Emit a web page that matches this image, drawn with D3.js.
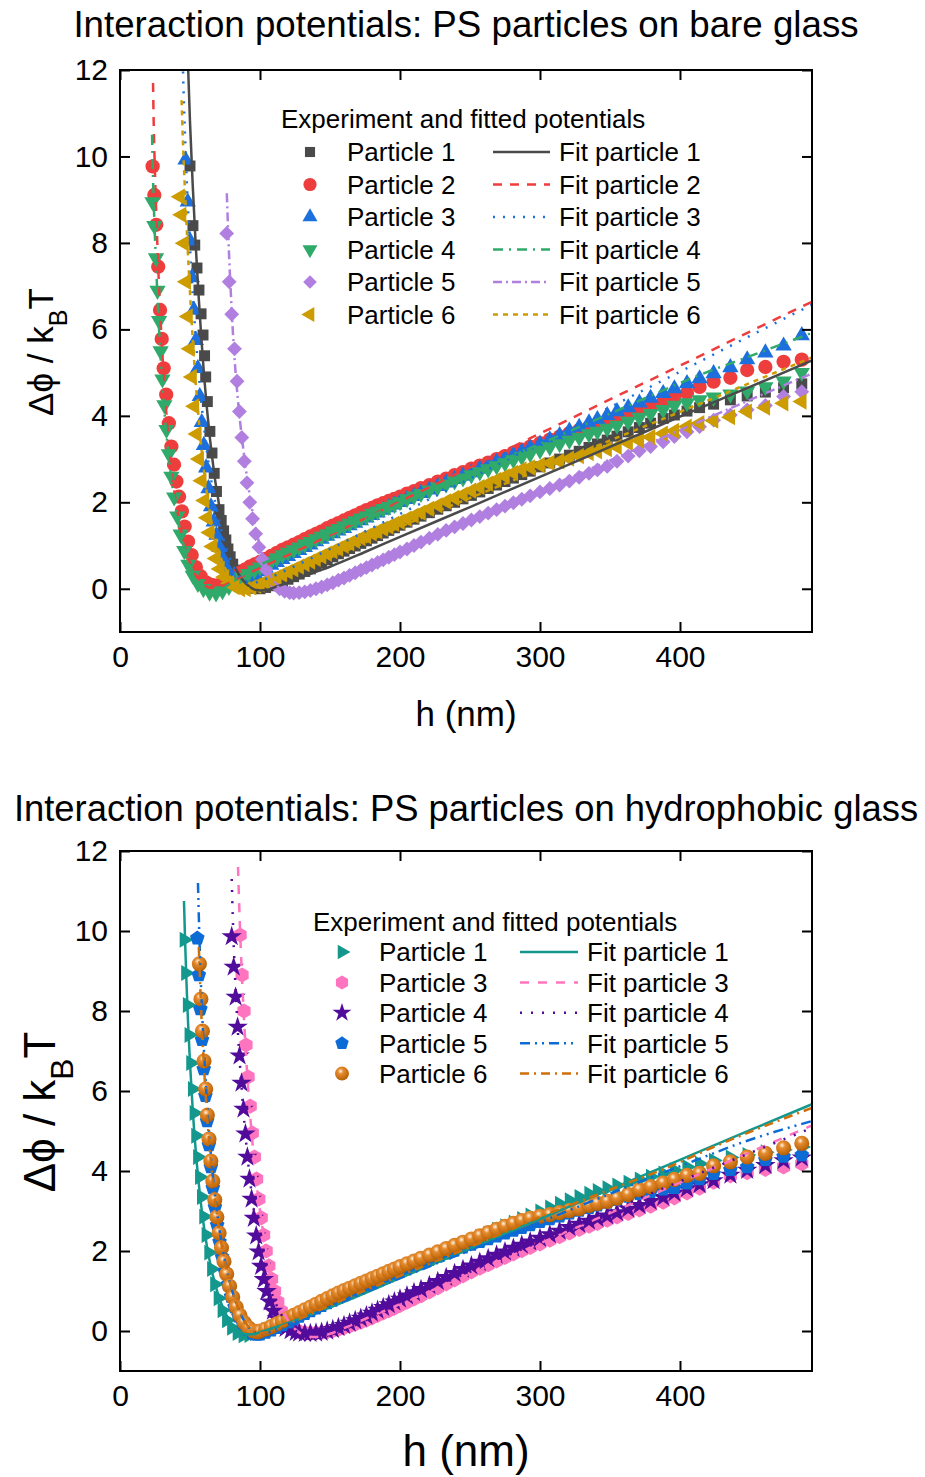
<!DOCTYPE html>
<html>
<head>
<meta charset="utf-8">
<script src="https://cdn.jsdelivr.net/npm/d3@7/dist/d3.min.js"></script>
<style>
  body { margin: 0; background: #fff; }
  text { font-family: "Liberation Sans", Arial, sans-serif; fill: #000; }
</style>
</head>
<body>
<div id="chart"></div>
<script>
// h (nm) of the histogram bins on the attractive side, shared by all particles
const tailH = [100,104,108,112,116,120,124,128,132,136,140,144,148,152,156,160,164,168,172,176,180,184,188,192,196,
  200,205,210,215,221,227,233,239,245,251,257,263,269,275,281,287,293,
  300,307,314,321,328,335,341,348,355,
  363,371,379,388,396,405,414,424,436,448,461,474,487];

// ---------- PS particles on bare glass ----------
// repulsive wall as [h, Δφ]
const bareP1Wall = [[50.0,9.78],[52.1,8.40],[53.4,7.95],[55.0,7.42],[56.4,6.91],[57.9,6.36],[59.3,5.87],[60.4,5.39],[61.2,4.90],[62.4,4.33],[64.2,3.64],[65.7,3.14],[67.3,2.67],[68.9,2.25],[70.7,1.83],[72.3,1.58],[74.0,1.34],[75.6,1.13],[77.1,0.92],[78.7,0.74],[80.5,0.57],[82.6,0.43],[85.0,0.30],[87.6,0.19],[90.5,0.10],[93.6,0.04],[97.0,0.01]];
const bareP2Wall = [[23.3,9.77],[24.5,9.11],[25.9,8.42],[27.3,7.45],[28.6,6.45],[29.8,5.78],[31.2,5.10],[33.0,4.49],[34.9,3.83],[36.7,3.29],[38.6,2.87],[40.3,2.48],[42.2,2.13],[44.2,1.79],[46.2,1.44],[48.6,1.09],[51.2,0.78],[54.2,0.50],[57.6,0.29],[61.4,0.15],[65.5,0.09],[69.5,0.08],[73.5,0.12],[77.5,0.19],[81.5,0.28],[85.5,0.37],[89.5,0.45],[93.0,0.52],[96.5,0.57]];
const bareP3Wall = [[46.8,9.92],[48.4,8.95],[50.0,8.05],[51.4,7.20],[52.8,6.45],[54.2,5.75],[55.6,5.10],[57.0,4.45],[58.4,3.85],[59.9,3.32],[61.5,2.80],[63.2,2.32],[65.0,1.90],[66.9,1.55],[68.9,1.24],[71.0,0.96],[73.2,0.71],[75.6,0.50],[78.2,0.34],[81.0,0.23],[84.0,0.16],[87.2,0.14],[90.5,0.16],[93.8,0.22],[97.0,0.31]];
const bareP4Wall = [[23.2,8.95],[24.5,8.40],[25.7,7.65],[26.8,6.90],[27.9,6.20],[29.0,5.50],[30.3,4.85],[31.7,4.25],[33.2,3.68],[34.9,3.12],[36.7,2.60],[38.7,2.12],[40.9,1.68],[43.3,1.26],[45.9,0.88],[48.8,0.56],[52.0,0.31],[55.6,0.12],[59.6,0.00],[64.0,-0.08],[68.6,-0.10],[73.2,-0.05],[77.8,0.05],[82.4,0.16],[87.0,0.26],[91.6,0.35],[96.0,0.43]];
const bareP5Wall = [[76.2,8.22],[78.0,7.10],[79.8,6.35],[81.8,5.55],[83.6,4.80],[85.3,4.10],[87.0,3.50],[88.8,2.95],[90.7,2.45],[92.7,2.00],[94.7,1.62],[96.9,1.27],[99.2,0.96],[101.7,0.68],[104.4,0.44],[107.3,0.25],[110.5,0.10],[114.0,0.00],[117.6,-0.06],[121.2,-0.09]];
const bareP6Wall = [[42.9,9.07],[44.0,8.65],[45.8,7.99],[47.3,7.10],[48.6,6.30],[50.0,5.55],[51.5,4.90],[53.2,4.22],[54.9,3.58],[56.6,3.00],[58.4,2.50],[60.4,2.04],[62.3,1.64],[64.1,1.30],[66.2,0.98],[68.6,0.70],[71.4,0.46],[74.6,0.27],[78.2,0.13],[82.0,0.04],[86.0,-0.01],[90.0,-0.01],[94.0,0.03],[97.5,0.07]];

// Δφ on tailH (null = no bin)
const bareP1Tail = [0.00,0.03,0.07,0.12,0.17,0.22,0.28,0.34,0.40,0.46,0.53,0.60,0.67,0.74,0.81,0.87,0.93,0.99,1.05,1.11,1.17,1.23,1.29,1.35,1.41,
  1.47,1.54,1.61,1.68,1.76,1.84,1.92,2.00,2.08,2.16,2.24,2.32,2.40,2.48,2.56,2.64,2.72,
  2.82,2.91,3.00,3.09,3.18,3.27,3.35,3.44,3.53,
  3.63,3.73,3.83,3.94,4.02,4.11,4.19,4.27,4.37,4.46,4.55,4.65,4.74];
const bareP2Tail = [0.62,0.69,0.76,0.83,0.90,0.96,1.02,1.08,1.15,1.21,1.27,1.33,1.40,1.46,1.52,1.58,1.64,1.70,1.76,1.82,1.87,1.93,1.98,2.03,2.08,
  2.13,2.20,2.26,2.33,2.40,2.48,2.55,2.63,2.70,2.78,2.85,2.92,3.00,3.07,3.15,3.22,3.29,
  3.37,3.45,3.52,3.60,3.67,3.74,3.80,3.87,3.94,
  4.02,4.12,4.22,4.32,4.44,4.53,4.67,4.79,4.88,5.06,5.13,5.25,5.30];
const bareP3Tail = [0.40,0.48,0.55,0.61,0.68,0.75,0.82,0.89,0.96,1.02,1.09,1.15,1.22,1.28,1.34,1.40,1.46,1.52,1.58,1.64,1.70,1.76,1.82,1.88,1.94,
  2.00,2.07,2.14,2.21,2.29,2.37,2.45,2.53,2.61,2.69,2.77,2.85,2.93,3.01,3.09,3.17,3.26,
  3.35,3.45,3.55,3.65,3.74,3.84,3.92,4.01,4.10,
  4.19,4.30,4.41,4.52,4.63,4.75,4.86,4.98,5.12,5.30,5.46,5.62,5.86];
const bareP4Tail = [0.50,0.57,0.64,0.71,0.78,0.84,0.90,0.96,1.03,1.09,1.15,1.21,1.27,1.33,1.39,1.45,1.51,1.57,1.63,1.68,1.74,1.79,1.85,1.90,1.95,
  2.01,2.08,2.14,2.20,2.28,2.35,2.42,2.49,2.56,2.63,2.70,2.77,2.84,2.91,2.98,3.05,3.12,
  3.20,3.28,3.35,3.43,3.50,3.58,3.64,3.71,3.78,
  3.87,3.96,4.05,4.14,4.24,4.30,4.37,4.43,4.50,4.57,4.67,4.80,5.00];
const bareP5Tail = [null,null,null,null,null,null,-0.10,-0.09,-0.07,-0.04,0.00,0.04,0.09,0.14,0.20,0.25,0.31,0.37,0.43,0.49,0.55,0.61,0.67,0.73,0.79,
  0.85,0.92,1.00,1.08,1.17,1.26,1.35,1.43,1.51,1.59,1.67,1.75,1.83,1.91,1.99,2.07,2.15,
  2.24,2.32,2.40,2.49,2.58,2.67,2.75,2.83,2.95,
  3.07,3.19,3.29,3.40,3.52,3.63,3.75,3.90,4.02,4.14,4.24,4.45,4.56];
const bareP6Tail = [0.10,0.15,0.21,0.27,0.33,0.39,0.45,0.51,0.57,0.63,0.69,0.75,0.81,0.87,0.93,0.99,1.05,1.11,1.17,1.22,1.28,1.33,1.39,1.44,1.50,
  1.55,1.62,1.69,1.76,1.85,1.93,2.02,2.10,2.18,2.27,2.35,2.43,2.52,2.60,2.68,2.76,2.81,
  2.86,2.91,2.95,3.01,3.07,3.14,3.18,3.23,3.28,
  3.37,3.43,3.51,3.59,3.65,3.75,3.83,3.89,3.97,4.10,4.19,4.29,4.33];

// fitted potentials [h, Δφ]
const bareFit1 = [[48.4,12.3],[50,10.8],[52,9.3],[54,8.0],[56,6.85],[58,5.85],[60,4.95],[62,4.2],[64,3.55],[66,3.0],[68,2.5],[70,2.1],[73,1.45],[76,1.05],[80,0.65],[85,0.32],[90,0.12],[95,0.0],[100,-0.04],[105,-0.03],[110,0.03],[120,0.14],[130,0.27],[140,0.39],[150,0.51],[175,0.85],[200,1.2],[250,1.89],[300,2.59],[350,3.28],[400,3.98],[450,4.67],[494.3,5.28]];
const bareFit2 = [[23.6,11.7],[24,10.9],[25,9.6],[26,8.6],[27,7.7],[28,6.9],[29,6.2],[30,5.6],[32,4.55],[34,3.7],[36,3.0],[38,2.45],[40,2.0],[43,1.45],[46,1.02],[50,0.6],[55,0.27],[60,0.09],[66,0.02],[72,0.05],[80,0.17],[90,0.33],[100,0.48],[120,0.78],[150,1.24],[200,2.02],[250,2.81],[300,3.59],[350,4.38],[400,5.16],[450,5.95],[494.3,6.64]];
const bareFit3 = [[44.8,12.2],[46,10.9],[47,10.0],[48,9.2],[50,7.9],[52,6.8],[54,5.85],[56,5.05],[58,4.35],[60,3.75],[62,3.2],[64,2.75],[66,2.35],[68,2.0],[71,1.55],[74,1.15],[78,0.75],[82,0.45],[86,0.25],[90,0.15],[95,0.13],[100,0.18],[110,0.3],[120,0.45],[150,0.92],[200,1.73],[250,2.55],[300,3.37],[350,4.2],[400,5.02],[450,5.85],[494.3,6.57]];
const bareFit4 = [[22.9,10.5],[23.5,9.6],[24.5,8.55],[25.5,7.7],[26.5,6.95],[27.5,6.25],[28.5,5.65],[30,4.85],[32,4.0],[34,3.3],[36,2.72],[38,2.24],[40,1.84],[43,1.35],[46,0.95],[50,0.55],[55,0.2],[60,0.0],[65,-0.08],[70,-0.05],[77,0.08],[85,0.26],[100,0.55],[120,0.85],[150,1.28],[181,1.71],[200,1.97],[250,2.66],[300,3.35],[350,4.05],[412,4.92],[450,5.38],[494.3,5.92]];
const bareFit5 = [[76.3,9.15],[77,8.5],[78,7.65],[79,6.95],[80,6.3],[82,5.25],[84,4.45],[86,3.8],[88,3.25],[90,2.75],[92,2.3],[94,1.9],[96,1.55],[98,1.25],[100,0.98],[103,0.65],[106,0.4],[110,0.16],[115,-0.02],[120,-0.09],[125,-0.1],[130,-0.07],[140,0.04],[150,0.17],[160,0.31],[180,0.59],[200,0.87],[250,1.57],[300,2.27],[350,2.97],[400,3.67],[450,4.37],[494.3,4.98]];
const bareFit6 = [[44.0,11.3],[45,10.3],[46,9.5],[47,8.8],[48,8.1],[49,7.45],[50,6.85],[52,5.75],[54,4.8],[56,4.0],[58,3.3],[60,2.72],[62,2.22],[64,1.8],[66,1.45],[69,1.05],[72,0.72],[76,0.42],[80,0.22],[85,0.07],[90,0.01],[95,0.02],[100,0.07],[110,0.2],[120,0.35],[150,0.72],[200,1.43],[250,2.1],[300,2.76],[350,3.43],[400,4.09],[450,4.76],[494.3,5.35]];

const bareLabels = ["Particle 1", "Particle 2", "Particle 3", "Particle 4", "Particle 5", "Particle 6"];

// ---------- PS particles on hydrophobic glass ----------
const hydroP1Wall = [[45.9,9.78],[47.0,8.95],[48.2,8.15],[49.4,7.40],[50.6,6.70],[51.8,6.05],[53.0,5.45],[54.2,4.88],[55.5,4.35],[56.9,3.85],[58.3,3.35],[59.9,2.86],[61.6,2.40],[63.5,1.96],[65.5,1.55],[67.7,1.17],[70.2,0.82],[73.0,0.52],[76.2,0.27],[79.8,0.08],[83.8,-0.05],[88.0,-0.11],[92.2,-0.10],[96.3,-0.06]];
const hydroP3Wall = [[85.8,9.90],[87.2,8.90],[88.6,8.00],[90.0,7.15],[91.5,6.35],[93.0,5.62],[94.5,4.95],[96.0,4.35],[97.6,3.80],[99.2,3.30],[100.9,2.83],[102.6,2.40],[104.4,2.00],[106.3,1.63],[108.3,1.30],[110.4,1.00],[112.7,0.73],[115.2,0.50],[118.0,0.31],[121.0,0.17],[124.2,0.07],[127.5,0.00]];
const hydroP4Wall = [[79.8,9.86],[81.2,9.10],[82.6,8.35],[84.0,7.60],[85.4,6.88],[86.8,6.20],[88.2,5.55],[89.6,4.93],[91.0,4.35],[92.5,3.80],[94.0,3.30],[95.6,2.82],[97.3,2.38],[99.0,1.98],[100.8,1.62],[102.7,1.29],[104.7,0.99],[106.9,0.73],[109.3,0.50],[112.0,0.31],[115.0,0.17],[118.3,0.07],[121.9,0.01],[125.6,-0.03]];
const hydroP5Wall = [[55.2,9.82],[56.3,8.90],[57.4,8.05],[58.6,7.28],[59.8,6.55],[61.0,5.88],[62.2,5.25],[63.5,4.65],[64.9,4.10],[66.3,3.58],[67.8,3.10],[69.4,2.65],[71.1,2.23],[72.9,1.85],[74.9,1.49],[77.0,1.16],[79.3,0.86],[81.8,0.60],[84.6,0.37],[87.7,0.18],[91.0,0.04],[94.5,-0.06],[97.8,-0.09]];
const hydroP6Wall = [[56.7,9.18],[57.8,8.30],[58.9,7.50],[60.0,6.75],[61.2,6.05],[62.4,5.40],[63.6,4.80],[64.9,4.25],[66.3,3.75],[67.7,3.28],[69.2,2.85],[70.8,2.45],[72.5,2.08],[74.3,1.74],[76.2,1.42],[78.3,1.12],[80.5,0.85],[83.0,0.60],[85.7,0.39],[88.7,0.21],[91.9,0.08],[95.3,0.00],[98.0,-0.02]];

const hydroP1Tail = [-0.02,0.02,0.07,0.12,0.18,0.24,0.30,0.36,0.42,0.49,0.55,0.62,0.68,0.75,0.82,0.89,0.95,1.02,1.08,1.14,1.20,1.26,1.32,1.38,1.44,
  1.50,1.57,1.64,1.72,1.81,1.90,1.99,2.08,2.17,2.26,2.35,2.44,2.53,2.62,2.71,2.80,2.89,
  2.99,3.09,3.18,3.27,3.35,3.43,3.50,3.57,3.64,
  3.71,3.79,3.86,3.94,4.02,4.10,4.18,4.26,4.34,4.40,4.47,4.53,4.60];
const hydroP3Tail = [null,null,null,null,null,null,null,-0.02,-0.04,-0.05,-0.05,-0.04,-0.02,0.01,0.04,0.08,0.12,0.17,0.22,0.27,0.33,0.39,0.45,0.51,0.57,
  0.64,0.72,0.80,0.88,0.98,1.08,1.18,1.28,1.38,1.48,1.57,1.66,1.75,1.84,1.93,2.01,2.09,
  2.18,2.27,2.36,2.45,2.54,2.62,2.69,2.77,2.85,
  2.94,3.03,3.12,3.22,3.33,3.45,3.57,3.72,3.88,3.96,4.04,4.10,4.18];
const hydroP4Tail = [null,null,null,null,null,null,null,-0.05,-0.06,-0.06,-0.05,-0.03,0.00,0.04,0.09,0.14,0.20,0.26,0.32,0.38,0.45,0.52,0.59,0.66,0.73,
  0.80,0.88,0.96,1.04,1.14,1.24,1.34,1.44,1.54,1.63,1.72,1.81,1.90,1.98,2.07,2.15,2.23,
  2.32,2.41,2.50,2.59,2.67,2.75,2.82,2.88,2.96,
  3.05,3.14,3.24,3.34,3.45,3.56,3.66,3.76,3.90,4.02,4.14,4.26,4.33];
const hydroP5Tail = [-0.08,-0.04,0.02,0.08,0.15,0.22,0.29,0.36,0.43,0.50,0.57,0.63,0.70,0.76,0.83,0.89,0.95,1.01,1.07,1.13,1.19,1.25,1.31,1.37,1.43,
  1.49,1.56,1.63,1.70,1.78,1.86,1.94,2.02,2.09,2.16,2.23,2.30,2.37,2.44,2.51,2.58,2.65,
  2.73,2.80,2.87,2.94,3.01,3.08,3.14,3.21,3.28,
  3.36,3.43,3.48,3.54,3.58,3.69,3.80,3.93,4.03,4.10,4.28,4.36,4.40];
const hydroP6Tail = [0.00,0.05,0.11,0.18,0.25,0.32,0.39,0.46,0.53,0.60,0.67,0.74,0.81,0.88,0.95,1.01,1.07,1.13,1.19,1.25,1.31,1.37,1.43,1.49,1.55,
  1.61,1.68,1.75,1.82,1.90,1.98,2.06,2.14,2.22,2.30,2.38,2.46,2.54,2.62,2.69,2.76,2.82,
  2.87,2.91,2.96,3.01,3.06,3.14,3.19,3.24,3.32,
  3.41,3.53,3.61,3.70,3.79,3.89,3.94,4.13,4.23,4.35,4.44,4.58,4.69];

const hydroFit1 = [[45.7,10.75],[46.5,9.75],[47.5,8.7],[48.5,7.8],[50,6.7],[52,5.5],[54,4.55],[56,3.78],[58,3.13],[60,2.6],[62,2.14],[64,1.76],[66,1.44],[69,1.04],[72,0.72],[76,0.4],[80,0.17],[85,0.0],[90,-0.08],[95,-0.08],[100,-0.03],[110,0.08],[120,0.2],[130,0.33],[140,0.46],[150,0.59],[200,1.32],[250,2.06],[300,2.8],[350,3.54],[400,4.28],[450,5.02],[494.3,5.67]];
const hydroFit3 = [[84.3,11.6],[85,10.8],[86,9.8],[87,8.95],[88,8.2],[90,6.9],[92,5.85],[94,4.95],[96,4.2],[98,3.55],[100,3.0],[103,2.3],[106,1.75],[109,1.3],[112,0.93],[116,0.55],[120,0.27],[125,0.05],[130,-0.08],[135,-0.14],[140,-0.15],[145,-0.12],[150,-0.07],[160,0.07],[175,0.3],[200,0.67],[250,1.43],[300,2.19],[350,2.95],[400,3.71],[450,4.47],[494.3,5.14]];
const hydroFit4 = [[79.8,11.3],[80.5,10.4],[81.5,9.4],[82.5,8.6],[84,7.6],[86,6.5],[88,5.55],[90,4.75],[92,4.05],[94,3.45],[96,2.92],[98,2.47],[100,2.08],[103,1.6],[106,1.2],[110,0.8],[115,0.42],[120,0.17],[125,0.02],[130,-0.06],[136,-0.08],[145,-0.04],[155,0.07],[170,0.27],[200,0.72],[250,1.48],[300,2.24],[350,3.0],[400,3.74],[450,4.45],[494.3,5.08]];
const hydroFit5 = [[55.7,11.2],[56.5,10.1],[57.5,9.0],[58.5,8.1],[60,7.0],[62,5.8],[64,4.8],[66,4.0],[68,3.35],[70,2.8],[72,2.33],[75,1.75],[78,1.28],[82,0.8],[86,0.44],[90,0.18],[95,0.0],[100,-0.05],[105,-0.04],[110,0.02],[120,0.15],[135,0.37],[150,0.6],[200,1.32],[250,2.02],[300,2.72],[367,3.67],[412,4.28],[445,4.72],[494.3,5.25]];
const hydroFit6 = [[56.3,9.6],[57,8.9],[58,8.0],[59,7.25],[60.5,6.3],[62.5,5.25],[64.5,4.4],[66.5,3.7],[68.5,3.1],[70.5,2.6],[73,2.07],[76,1.55],[79,1.14],[83,0.7],[87,0.38],[91,0.14],[95,0.0],[100,-0.05],[105,-0.03],[110,0.03],[120,0.18],[135,0.41],[150,0.64],[200,1.38],[250,2.1],[300,2.85],[355,3.6],[390,4.07],[424,4.6],[494.3,5.58]];

const hydroLabels = ["Particle 1", "Particle 3", "Particle 4", "Particle 5", "Particle 6"];

const xTicks = [0, 100, 200, 300, 400];
const yTicks = [0, 2, 4, 6, 8, 10, 12];

// ---------- drawing ----------
const width = 925, height = 1477;
const svg = d3.select("#chart").append("svg").attr("width", width).attr("height", height);
const defs = svg.append("defs");

// shaded ball for particle 6 (hydrophobic)
const ball = defs.append("radialGradient").attr("id", "ball")
  .attr("cx", 0.4).attr("cy", 0.33).attr("r", 0.7);
ball.append("stop").attr("offset", 0).attr("stop-color", "#fff4e4");
ball.append("stop").attr("offset", 0.28).attr("stop-color", "#e68c30");
ball.append("stop").attr("offset", 1).attr("stop-color", "#b35c00");

const hexagon = {
  draw(ctx, size) {
    const r = Math.sqrt(size / 2.598);
    for (let i = 0; i < 6; i++) {
      const a = -Math.PI / 2 + i * Math.PI / 3;
      if (i) ctx.lineTo(r * Math.cos(a), r * Math.sin(a));
      else ctx.moveTo(r * Math.cos(a), r * Math.sin(a));
    }
    ctx.closePath();
  }
};
const pentagon = {
  draw(ctx, size) {
    const r = Math.sqrt(size / 2.378);
    for (let i = 0; i < 5; i++) {
      const a = -Math.PI / 2 + i * 2 * Math.PI / 5;
      if (i) ctx.lineTo(r * Math.cos(a), r * Math.sin(a));
      else ctx.moveTo(r * Math.cos(a), r * Math.sin(a));
    }
    ctx.closePath();
  }
};

const x = d3.scaleLinear().domain([0, 494.3]).range([120, 812]);

function points(wall, tail) {
  return wall.concat(tailH.map((h, i) => [h, tail[i]]).filter(d => d[1] != null));
}

const bareSeries = [
  { pts: points(bareP1Wall, bareP1Tail), fit: bareFit1, shape: d3.symbolSquare, size: 120, rot: 0, color: "#4a4a4a", dash: null },
  { pts: points(bareP2Wall, bareP2Tail), fit: bareFit2, shape: d3.symbolCircle, size: 160, rot: 0, color: "#ee3d3d", dash: "9,8" },
  { pts: points(bareP3Wall, bareP3Tail), fit: bareFit3, shape: d3.symbolTriangle, size: 115, rot: 0, color: "#1c6fdc", dash: "2,8" },
  { pts: points(bareP4Wall, bareP4Tail), fit: bareFit4, shape: d3.symbolTriangle, size: 115, rot: 180, color: "#30aa6a", dash: "10,6,2,6" },
  { pts: points(bareP5Wall, bareP5Tail), fit: bareFit5, shape: d3.symbolSquare, size: 110, rot: 45, color: "#b07fe0", dash: "9,4,2,4" },
  { pts: points(bareP6Wall, bareP6Tail), fit: bareFit6, shape: d3.symbolTriangle, size: 115, rot: -90, color: "#cc9c00", dash: "5,5" }
];
bareSeries.forEach((s, i) => s.label = bareLabels[i]);

const hydroSeries = [
  { pts: points(hydroP1Wall, hydroP1Tail), fit: hydroFit1, shape: d3.symbolTriangle, size: 110, rot: 90, color: "#14988e", dash: null },
  { pts: points(hydroP3Wall, hydroP3Tail), fit: hydroFit3, shape: hexagon, size: 150, rot: 0, color: "#ff74be", dash: "9,9" },
  { pts: points(hydroP4Wall, hydroP4Tail), fit: hydroFit4, shape: d3.symbolStar, size: 130, rot: 0, color: "#520c9c", dash: "2,9" },
  { pts: points(hydroP5Wall, hydroP5Tail), fit: hydroFit5, shape: pentagon, size: 140, rot: 0, color: "#0d6bd6", dash: "10,5,2,5,2,5" },
  { pts: points(hydroP6Wall, hydroP6Tail), fit: hydroFit6, shape: d3.symbolCircle, size: 180, rot: 0, color: "#d06f0a", fill: "url(#ball)", dash: "9,5,2,5" }
];
hydroSeries.forEach((s, i) => s.label = hydroLabels[i]);

function drawPanel(p) {
  const y = d3.scaleLinear().domain([-1, 12]).range([p.bottom, p.top]);
  const g = svg.append("g");

  defs.append("clipPath").attr("id", "clip" + p.id).append("rect")
    .attr("x", 120).attr("y", p.top).attr("width", 692).attr("height", p.bottom - p.top);
  const plot = g.append("g").attr("clip-path", `url(#clip${p.id})`);

  // experiment
  p.series.forEach(s => {
    const sym = d3.symbol().type(s.shape).size(s.size);
    plot.append("g").selectAll("path").data(s.pts).join("path")
      .attr("d", sym)
      .attr("transform", d => `translate(${x(d[0])},${y(d[1])}) rotate(${s.rot})`)
      .attr("fill", s.fill || s.color);
  });

  // fits
  const line = d3.line().x(d => x(d[0])).y(d => y(d[1])).curve(d3.curveMonotoneX);
  p.series.forEach(s => {
    plot.append("path").datum(s.fit)
      .attr("d", line)
      .attr("fill", "none")
      .attr("stroke", s.color)
      .attr("stroke-width", 2.5)
      .attr("stroke-dasharray", s.dash);
  });

  // axes, ticks pointing inward on all four sides
  const axes = g.append("g");
  axes.append("g").attr("transform", `translate(0,${p.bottom})`)
    .call(d3.axisBottom(x).tickValues(xTicks).tickSize(-10).tickPadding(p.xPad));
  axes.append("g").attr("transform", `translate(0,${p.top})`)
    .call(d3.axisTop(x).tickValues(xTicks).tickSize(-10).tickFormat(""));
  axes.append("g").attr("transform", "translate(120,0)")
    .call(d3.axisLeft(y).tickValues(yTicks).tickSize(-10).tickPadding(12));
  axes.append("g").attr("transform", "translate(812,0)")
    .call(d3.axisRight(y).tickValues(yTicks).tickSize(-10).tickFormat(""));
  axes.selectAll(".domain").remove();
  axes.selectAll(".tick line").attr("stroke", "#000").attr("stroke-width", 2);
  axes.selectAll(".tick text").attr("font-size", p.tickSize).attr("fill", "#000");
  g.append("rect")
    .attr("x", 120).attr("y", p.top).attr("width", 692).attr("height", p.bottom - p.top)
    .attr("fill", "none").attr("stroke", "#000").attr("stroke-width", 2);

  // legend
  const L = p.legend;
  const lg = g.append("g").attr("font-size", L.font);
  lg.append("text").attr("x", L.x).attr("y", L.y).text("Experiment and fitted potentials");
  p.series.forEach((s, i) => {
    const cy = L.row0 + i * L.step;
    lg.append("path")
      .attr("d", d3.symbol().type(s.shape).size(s.size * 0.85)())
      .attr("transform", `translate(${L.mx},${cy}) rotate(${s.rot})`)
      .attr("fill", s.fill || s.color);
    lg.append("text").attr("x", L.tx).attr("y", cy).attr("dy", "0.36em").text(s.label);
    lg.append("line")
      .attr("x1", L.l1).attr("x2", L.l2).attr("y1", cy).attr("y2", cy)
      .attr("stroke", s.color).attr("stroke-width", 2.5).attr("stroke-dasharray", s.dash);
    lg.append("text").attr("x", L.fx).attr("y", cy).attr("dy", "0.36em").text("Fit " + s.label.toLowerCase());
  });

  // titles and axis labels
  g.append("text").attr("x", 466).attr("y", p.titleY).attr("text-anchor", "middle")
    .attr("font-size", p.titleSize).text(p.title);
  g.append("text").attr("x", 466).attr("y", p.xLabelY).attr("text-anchor", "middle")
    .attr("font-size", p.labelSize).text("h (nm)");
  const yl = g.append("text")
    .attr("transform", `translate(${p.yLabelX},${p.yLabelY}) rotate(-90)`)
    .attr("text-anchor", "middle").attr("font-size", p.labelSize);
  yl.append("tspan").text("Δϕ / k");
  yl.append("tspan").attr("baseline-shift", "sub").attr("font-size", "72%").text("B");
  yl.append("tspan").text("T");
}

drawPanel({
  id: "bare", top: 70, bottom: 632, series: bareSeries,
  title: "Interaction potentials: PS particles on bare glass", titleY: 37, titleSize: 36.7,
  xPad: 14, tickSize: 30, labelSize: 35, xLabelY: 726, yLabelX: 53, yLabelY: 352,
  legend: { font: 26, x: 281, y: 128, row0: 152, step: 32.5, mx: 310, tx: 347, l1: 493, l2: 550, fx: 559 }
});

drawPanel({
  id: "hydro", top: 851, bottom: 1371, series: hydroSeries,
  title: "Interaction potentials: PS particles on hydrophobic glass", titleY: 821, titleSize: 36.4,
  xPad: 14, tickSize: 30, labelSize: 44, xLabelY: 1466, yLabelX: 55, yLabelY: 1112,
  legend: { font: 26, x: 313, y: 931, row0: 952, step: 30.4, mx: 342, tx: 379, l1: 520, l2: 578, fx: 587 }
});
</script>
</body>
</html>
